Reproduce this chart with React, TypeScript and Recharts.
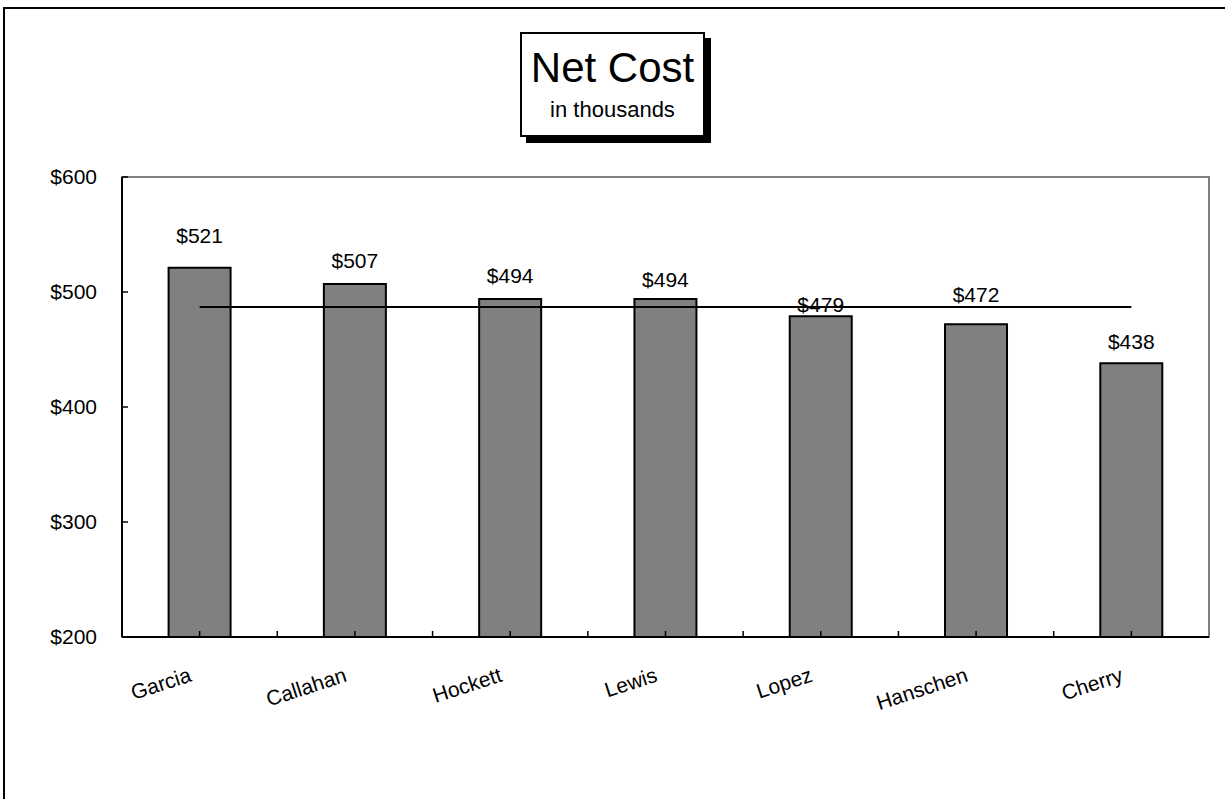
import React from "react";
import {
    BarChart,
    Bar,
    XAxis,
    YAxis,
    LabelList,
    ReferenceLine,
    ReferenceArea,
} from "recharts";

const names = ["Garcia", "Callahan", "Hockett", "Lewis", "Lopez", "Hanschen", "Cherry"];
const netCost = [521, 507, 494, 494, 479, 472, 438];
const averageCost = 487;
const yTicks = [200, 300, 400, 500, 600];
// how far each value label sits above its bar (the original placed them unevenly)
const labelGaps = [25, 16, 16, 12, 4, 22, 14];

const data = names.map((name, i) => ({ name, cost: netCost[i] }));

const W = 1225;
const H = 799;
const margin = { top: 177, right: 16, bottom: 102, left: 62 };
const yAxisWidth = 60;
const plotWidth = W - margin.left - margin.right - yAxisWidth;
const band = plotWidth / names.length;
const font = "'Liberation Sans', Arial, sans-serif";

function XTick({ x, y, payload }) {
    const axisY = y - 44;
    const ax = x - 7;
    return (
        <g>
            <line x1={x} x2={x} y1={axisY} y2={axisY - 6} stroke="#000" strokeWidth={1.5} />
            <line
                x1={x - band / 2}
                x2={x - band / 2}
                y1={axisY}
                y2={axisY - 6}
                stroke="#000"
                strokeWidth={1.5}
            />
            <text
                x={ax}
                y={y}
                textAnchor="end"
                fontSize={21}
                fontFamily={font}
                fill="#000"
                transform={`rotate(-18, ${ax}, ${y})`}
            >
                {payload.value}
            </text>
        </g>
    );
}

function YTick({ x, y, payload }) {
    const axisX = x + 25;
    return (
        <g>
            <line x1={axisX} x2={axisX + 6} y1={y} y2={y} stroke="#000" strokeWidth={1.5} />
            <text
                x={x}
                y={y}
                dy={7}
                textAnchor="end"
                fontSize={21}
                fontFamily={font}
                fill="#000"
            >
                ${payload.value}
            </text>
        </g>
    );
}

function ValueLabel({ x, y, width, value, index }) {
    return (
        <text
            x={x + width / 2}
            y={y - labelGaps[index]}
            textAnchor="middle"
            fontSize={21}
            fontFamily={font}
            fill="#000"
        >
            ${value}
        </text>
    );
}

export default function App() {
    return (
        <div
            style={{
                position: "absolute",
                left: 0,
                top: 0,
                width: W,
                height: H,
                overflow: "hidden",
                background: "#fff",
            }}
        >
            <div
                style={{
                    position: "absolute",
                    left: 3,
                    top: 7,
                    width: W + 20,
                    height: H + 20,
                    borderTop: "2px solid #000",
                    borderLeft: "2px solid #000",
                }}
            />
            <div
                style={{
                    position: "absolute",
                    left: 520,
                    top: 32,
                    width: 181,
                    height: 101,
                    border: "2px solid #000",
                    background: "#fff",
                    boxShadow: "6px 6px 0 #000",
                    fontFamily: font,
                    textAlign: "center",
                    color: "#000",
                }}
            >
                <div style={{ fontSize: 42, lineHeight: "42px", marginTop: 13 }}>Net Cost</div>
                <div style={{ fontSize: 22, lineHeight: "22px", marginTop: 10 }}>in thousands</div>
            </div>
            <div style={{ position: "absolute", left: 0, top: 0 }}>
                <BarChart
                    width={W}
                    height={H}
                    data={data}
                    margin={margin}
                    barCategoryGap="30%"
                    style={{ fontFamily: font }}
                >
                    <ReferenceArea
                        y1={200}
                        y2={600}
                        fill="none"
                        stroke="#555"
                        strokeWidth={1.5}
                    />
                    <XAxis
                        dataKey="name"
                        height={60}
                        axisLine={{ stroke: "#000", strokeWidth: 2 }}
                        tickLine={false}
                        tickSize={6}
                        tickMargin={38}
                        interval={0}
                        tick={XTick}
                    />
                    <YAxis
                        width={yAxisWidth}
                        domain={[200, 600]}
                        ticks={yTicks}
                        allowDataOverflow
                        axisLine={{ stroke: "#000", strokeWidth: 2 }}
                        tickLine={false}
                        tickSize={6}
                        tickMargin={19}
                        interval={0}
                        tick={YTick}
                    />
                    <Bar
                        dataKey="cost"
                        fill="#808080"
                        stroke="#000"
                        strokeWidth={2}
                        isAnimationActive={false}
                    >
                        <LabelList dataKey="cost" content={ValueLabel} />
                    </Bar>
                    <ReferenceLine
                        segment={[
                            { x: names[0], y: averageCost },
                            { x: names[names.length - 1], y: averageCost },
                        ]}
                        stroke="#000"
                        strokeWidth={2}
                    />
                </BarChart>
            </div>
        </div>
    );
}
